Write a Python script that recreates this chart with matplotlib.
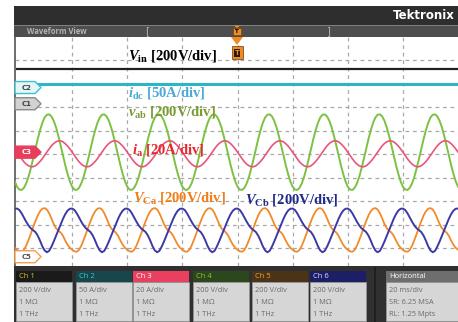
import numpy as np
import matplotlib
matplotlib.use("Agg")
import matplotlib.pyplot as plt
from matplotlib.patches import Rectangle, Polygon

plt.rcParams['mathtext.fontset'] = 'custom'
plt.rcParams['mathtext.it'] = 'Liberation Serif:italic:bold'
plt.rcParams['mathtext.rm'] = 'Liberation Serif:bold'
plt.rcParams['mathtext.bf'] = 'Liberation Serif:bold'

# ---- data (vertical units = divisions, 0 = centre line) ----
n_div = 8                      # horizontal divisions visible, 20 ms/div -> one 50 Hz cycle per div
vin_level = 3.64               # Vin, flat dc
idc_level = 3.0                # idc, flat dc

# one cycle of each periodic trace, 24 samples per division
vab_cycle = [-1.37, -1.49, -1.51, -1.42, -1.23, -0.95, -0.59, -0.19, 0.24, 0.65, 1.02, 1.34,
             1.57, 1.69, 1.71, 1.62, 1.43, 1.15, 0.79, 0.39, -0.04, -0.45, -0.82, -1.14]
ia_cycle = [0.10, -0.04, -0.18, -0.31, -0.41, -0.48, -0.52, -0.52, -0.48, -0.40, -0.30, -0.18,
            -0.04, 0.10, 0.24, 0.37, 0.47, 0.54, 0.58, 0.58, 0.54, 0.46, 0.36, 0.24]
vca_cycle = [-4.05, -4.12, -4.14, -4.06, -3.88, -3.64, -3.38, -3.10, -2.84, -2.60, -2.42, -2.31,
             -2.28, -2.34, -2.50, -2.72, -2.96, -3.14, -3.24, -3.32, -3.46, -3.66, -3.84, -3.97]
vcb_cycle = [-2.30, -2.36, -2.50, -2.68, -2.86, -3.02, -3.14, -3.22, -3.30, -3.45, -3.66, -3.90,
             -4.08, -4.16, -4.10, -3.92, -3.70, -3.46, -3.22, -2.98, -2.74, -2.54, -2.39, -2.31]

marker_names = ['C2', 'C1', 'C3', 'C5']
marker_levels = [2.85, 2.16, 0.1, -4.35]

labels = [r'$V_{\mathrm{in}}$ [200V/div]', r'$i_{\mathrm{dc}}$ [50A/div]', r'$v_{\mathrm{ab}}$ [200V/div]',
          r'$i_{\mathrm{a}}$ [20A/div]', r'$V_{\mathrm{Ca}}$ [200V/div]', r'$V_{\mathrm{Cb}}$ [200V/div]']
label_x = [2.01, 2.01, 2.01, 2.09, 2.10, 4.14]
label_y = [4.19, 2.62, 1.81, 0.19, -1.85, -1.94]
label_colors = ['black', '#4aa9d6', '#7a9a34', '#e8262f', '#f07d16', '#1f2a8a']

ch_names = ['Ch 1', 'Ch 2', 'Ch 3', 'Ch 4', 'Ch 5', 'Ch 6']
ch_scale = ['200 V/div', '50 A/div', '20 A/div', '200 V/div', '200 V/div', '200 V/div']
horiz_info = ['20 ms/div', 'SR: 6.25 MSA', 'RL: 1.25 Mpts']

# ---- figure ----
W, H = 458, 322
fig = plt.figure(figsize=(W / 100, H / 100), dpi=100)
fig.patch.set_facecolor('white')

def px_box(x0, y0, x1, y1):
    return [x0 / W, 1 - y1 / H, (x1 - x0) / W, (y1 - y0) / H]

ax = fig.add_axes(px_box(15, 37, 458, 266))
ax.set_xlim(-2 / 55.1, n_div)
ax.set_ylim(-4.745, 5.0)
ax.set_facecolor('white')
for s in ['top', 'right', 'bottom']:
    ax.spines[s].set_visible(False)
ax.spines['left'].set_color('#555555')
ax.spines['left'].set_linewidth(1.2)
ax.set_xticks([])
ax.set_yticks([])

for gx in range(1, n_div):
    ax.axvline(gx, color='#a8a8a8', lw=0.9, ls=(0, (3, 3)), zorder=1)
for gy in range(-4, 5):
    ax.axhline(gy, color='#a8a8a8', lw=0.9, ls=(0, (3, 3)), zorder=1)


def tiled(cycle):
    cyc = np.asarray(cycle)
    x = np.arange(-1, n_div * len(cyc) + 1) / len(cyc)
    y = np.concatenate([[cyc[-1]], np.tile(cyc, n_div), [cyc[0]]])
    return x, y

ax.plot([0, n_div], [vin_level, vin_level], color='#202020', lw=1.6, zorder=3)
ax.plot([0, n_div], [idc_level, idc_level], color='#2bb5c6', lw=2.2, zorder=3)
ax.plot(*tiled(vca_cycle), color='#f28a2a', lw=1.3, zorder=3)
ax.plot(*tiled(vcb_cycle), color='#3b3aa6', lw=1.4, zorder=3)
ax.plot(*tiled(vab_cycle), color='#7dc142', lw=1.4, zorder=3)
ax.plot(*tiled(ia_cycle), color='#e9557a', lw=1.2, zorder=3)

for txt, lx, ly, c in zip(labels, label_x, label_y, label_colors):
    ax.text(lx, ly, txt, color=c, fontsize=10.5, family='Liberation Serif', weight='bold',
            va='center', ha='left', zorder=5)

# channel markers at the left edge
mk_style = {'C2': ('#e4f7f8', '#3cc0cc', '#444444'), 'C1': ('#d2d2d2', '#8a8a8a', '#444444'),
            'C3': ('#e63e5c', '#e63e5c', 'white'), 'C5': ('white', '#f0a050', '#555555')}
mw, mh, tip = 26 / 55.1, 12 / 23.5, 6 / 55.1
x0 = -2 / 55.1
for name, lvl in zip(marker_names, marker_levels):
    fc, ec, tc = mk_style[name]
    poly = Polygon([(x0, lvl - mh / 2), (x0 + mw - tip, lvl - mh / 2), (x0 + mw, lvl),
                    (x0 + mw - tip, lvl + mh / 2), (x0, lvl + mh / 2)], closed=True,
                   fc=fc, ec=ec, lw=1.0, zorder=6, clip_on=False)
    ax.add_patch(poly)
    ax.text(x0 + (mw - tip) / 2 + 0.03, lvl, name, color=tc, fontsize=5, ha='center', va='center',
            weight='bold', zorder=7)

# ---- scope chrome in pixel coordinates ----
ui = fig.add_axes([0, 0, 1, 1], zorder=10)
ui.set_xlim(0, W)
ui.set_ylim(H, 0)
ui.axis('off')
ui.patch.set_alpha(0)

ui.add_patch(Rectangle((14, 6), W - 14, 19, fc='#2e2e2e', ec='none'))
ui.add_patch(Rectangle((14, 25), W - 14, 12, fc='#4e4e4e', ec='none'))
ui.plot([14, W], [25, 25], color='#8a8a8a', lw=0.6)
ui.text(455, 15.5, 'Tektronix', color='white', fontsize=8.5, weight='bold', ha='right', va='center',
        family='DejaVu Sans')
ui.text(27, 31, 'Waveform View', color='#b4b4b4', fontsize=5.5, weight='bold', ha='left', va='center',
        family='Open Sans')
ui.text(147, 31, '[', color='#b4b4b4', fontsize=7, ha='center', va='center')
ui.text(328, 31, ']', color='#b4b4b4', fontsize=7, ha='center', va='center')
# trigger marks
ui.add_patch(Polygon([(233, 25), (241, 25), (237, 28)], fc='#f08a24', ec='none'))
ui.add_patch(Rectangle((233, 28), 8, 7, fc='#f08a24', ec='#6a3a00', lw=0.4))
ui.text(237, 31.5, 'T', color='black', fontsize=4, ha='center', va='center', weight='bold')
ui.add_patch(Polygon([(231, 37), (243, 37), (237, 45)], fc='#f08a24', ec='none'))
ui.add_patch(Rectangle((231.5, 46), 11, 13, fc='#f08a24', ec='#6a3a00', lw=0.5))
ui.add_patch(Rectangle((234, 48.5), 6, 8, fc='#2a1a0a', ec='none'))
ui.text(237, 52.5, 'T', color='#f08a24', fontsize=5, ha='center', va='center', weight='bold')

# bottom channel panel
ui.add_patch(Rectangle((14, 266), W - 14, H - 266, fc='#303030', ec='none'))
head_fc = ['#1a1a1a', '#17474c', '#e8405e', '#2c471c', '#4a3316', '#1d1f66']
head_tc = ['#d8c21e', '#3fc6cf', 'white', '#8fc43c', '#f0a040', '#dcdcff']
box_x = [16, 76, 133, 193, 252, 310]
bw = 56
for name, scale, x, fc, tc in zip(ch_names, ch_scale, box_x, head_fc, head_tc):
    ui.add_patch(Rectangle((x, 271), bw, 11, fc=fc, ec='none'))
    ui.add_patch(Rectangle((x, 282), bw, 39, fc='#d6d6d6', ec='#9a9a9a', lw=0.5))
    ui.text(x + 3, 276.5, name, color=tc, fontsize=5.5, ha='left', va='center', family='Open Sans')
    for j, line in enumerate([scale, '1 M\u03a9', '1 THz']):
        ui.text(x + 3, 291 + 11.8 * j, line, color='#6a6a6a', fontsize=5.3, ha='left', va='center',
                family='Open Sans')
ui.plot([375, 375], [268, H], color='#1c1c1c', lw=1.2)
ui.add_patch(Rectangle((386, 271), W - 386, 11, fc='#6e6e6e', ec='none'))
ui.add_patch(Rectangle((386, 282), W - 386, 39, fc='#d6d6d6', ec='#9a9a9a', lw=0.5))
ui.text(389, 276.5, 'Horizontal', color='white', fontsize=5.5, ha='left', va='center', family='Open Sans')
for j, line in enumerate(horiz_info):
    ui.text(389, 291 + 11.8 * j, line, color='#6a6a6a', fontsize=5.3, ha='left', va='center',
            family='Open Sans')

fig.savefig('out.png', dpi=100)
